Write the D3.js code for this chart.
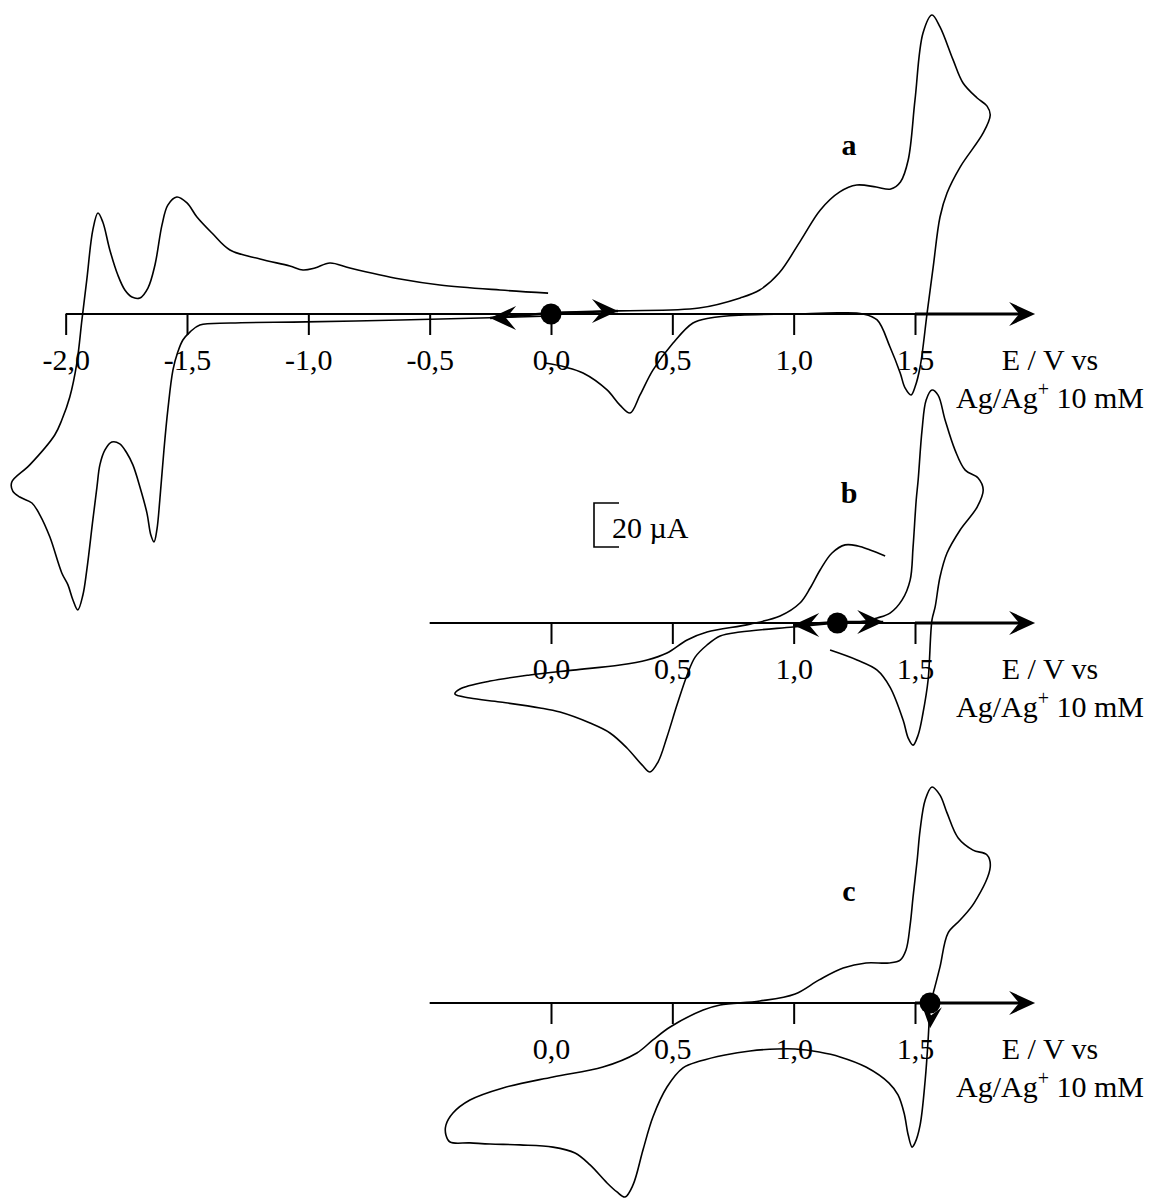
<!DOCTYPE html>
<html>
<head>
<meta charset="utf-8">
<script src="https://cdn.jsdelivr.net/npm/d3@7"></script>
<style>
  html, body { margin: 0; padding: 0; background: #fff; }
  svg { display: block; }
  text { font-family: "Liberation Serif", "Times New Roman", serif; fill: #000; }
</style>
</head>
<body>
<svg id="chart" width="1154" height="1198"></svg>
<script>
// ---------- DATA (E in V vs Ag/Ag+ 10 mM, I in µA) ----------
const ticksA = [-2.0, -1.5, -1.0, -0.5, 0.0, 0.5, 1.0, 1.5];
const ticksBC = [0.0, 0.5, 1.0, 1.5];
const panelLetters = ["a", "b", "c"];
const axisTitle = ["E / V vs", "Ag/Ag", "+", " 10 mM"];
const scaleBarLabel = "20 µA";
const scaleBarValue = 20;

// start potentials (filled dots)
const startA = 0.0;
const startB = 1.18;
const startC = 1.562;

// trace a : scan started towards positive potentials
const aPositive = [
  [0.00,0.5],[0.28,1.4],[0.61,2.7],[0.78,7.3],[0.86,10.9],[0.94,18.6],[1.03,33.6],
  [1.11,47.3],[1.19,55.5],[1.26,58.6],[1.34,57.7],[1.40,56.8],[1.44,60],[1.472,70],
  [1.50,97.3],[1.533,127.7],[1.57,135.9],[1.603,130.5],[1.657,115.5],[1.698,105],
  [1.756,98.2],[1.797,94.5],[1.81,90.5],[1.781,82.3],[1.686,66.8],[1.632,55],
  [1.603,44.1],[1.575,21.4],[1.55,0.5],[1.521,-24.1],[1.50,-33.2],[1.484,-36.8],
  [1.459,-33.6],[1.439,-26.8],[1.397,-15],[1.344,-2.7],[1.286,0],[1.19,0.5],
  [1.00,0],[0.78,-0.5],[0.655,-1.8],[0.585,-4.1],[0.503,-13.2],[0.42,-25.5],
  [0.367,-36.8],[0.326,-45],[0.284,-41.4],[0.231,-34.5],[0.132,-26.8],
  [0.058,-24.1],[-0.025,-22.3]
];
// trace a : scan started towards negative potentials
const aNegative = [
  [0.00,-0.9],[-0.29,-1.8],[-0.62,-2.7],[-1.01,-3.6],[-1.32,-4.1],[-1.447,-5],
  [-1.488,-8.2],[-1.517,-11.8],[-1.538,-17.3],[-1.558,-25.5],[-1.579,-43.6],
  [-1.595,-61.8],[-1.612,-84.5],[-1.624,-98],[-1.636,-103.6],[-1.649,-100.5],
  [-1.665,-90.5],[-1.694,-78.6],[-1.723,-68.6],[-1.748,-63.2],[-1.777,-59],
  [-1.81,-58.2],[-1.838,-61.8],[-1.859,-68.6],[-1.871,-78.6],[-1.888,-93.6],
  [-1.913,-116.4],[-1.929,-127.7],[-1.95,-134.5],[-1.97,-130],[-1.991,-123],
  [-2.016,-117.7],[-2.065,-101.4],[-2.106,-91.4],[-2.139,-85.9],[-2.189,-83.2],
  [-2.218,-80.5],[-2.222,-76.4],[-2.148,-68.6],[-2.045,-55],[-2.016,-48.2],
  [-1.983,-37.7],[-1.954,-22.3],[-1.933,-2.7],[-1.913,15.5],[-1.888,38.2],
  [-1.867,45.9],[-1.847,41.8],[-1.818,29.1],[-1.785,17.7],[-1.756,10.9],
  [-1.727,7.7],[-1.694,7.3],[-1.661,11.8],[-1.632,22.3],[-1.603,40.5],
  [-1.579,49.5],[-1.542,53.2],[-1.50,50.5],[-1.459,44.1],[-1.397,36.8],
  [-1.323,29.1],[-1.199,25],[-1.076,21.8],[-1.022,20],[-0.973,20.9],
  [-0.911,23.2],[-0.829,20.9],[-0.622,15.9],[-0.458,13.2],[-0.21,10.9],[-0.012,9.5]
];
// trace b : scan started towards positive potentials
const bPositive = [
  [1.18,0],[1.274,0.5],[1.344,2.3],[1.397,4.5],[1.447,10.5],[1.48,19.5],[1.492,34.5],
  [1.505,55.9],[1.513,65],[1.529,87.7],[1.546,101.4],[1.57,105.9],[1.595,103.6],
  [1.624,92.3],[1.665,78.6],[1.707,69.5],[1.76,65.9],[1.781,60.5],[1.756,52.7],
  [1.686,42.3],[1.632,31.8],[1.603,20.9],[1.583,7.3],[1.57,1.4],[1.554,-25.9],
  [1.533,-40.9],[1.513,-50.9],[1.492,-55.5],[1.472,-52.3],[1.451,-44.1],
  [1.397,-29.1],[1.344,-21.4],[1.261,-16.8],[1.15,-12.3]
];
// trace b : scan started towards negative potentials
const bNegative = [
  [1.18,0],[0.998,-1.8],[0.779,-4.1],[0.697,-5.9],[0.643,-10],[0.594,-15.5],
  [0.561,-23.6],[0.519,-37.3],[0.478,-51.8],[0.441,-63.2],[0.408,-67.7],
  [0.375,-64.5],[0.313,-56.8],[0.243,-50],[0.161,-45.5],[0.037,-40.5],
  [-0.045,-38.6],[-0.21,-35.9],[-0.334,-34.1],[-0.396,-32.3],[-0.375,-30],
  [-0.251,-26.4],[-0.087,-23.6],[0.091,-21.4],[0.284,-19.1],[0.396,-16.8],
  [0.478,-13.6],[0.561,-7.7],[0.643,-4.1],[0.82,-0.5],[0.944,3.2],[1.026,9.1],
  [1.068,15.9],[1.109,24.1],[1.158,31.8],[1.212,35.5],[1.265,35],[1.315,33.2],[1.377,30.5]
];
// trace c : single cycle started at +1.56 V towards negative potentials
const cCycle = [
  [1.562,0],[1.554,-16.8],[1.542,-35],[1.521,-55.5],[1.50,-63.6],[1.488,-65.5],
  [1.472,-60],[1.455,-50],[1.43,-41.8],[1.393,-36.4],[1.298,-29.1],[1.191,-24.5],
  [1.105,-22.3],[1.006,-20.9],[0.932,-20.9],[0.82,-21.8],[0.717,-23.6],[0.614,-26.4],
  [0.544,-29.5],[0.478,-38.2],[0.42,-51.8],[0.379,-66.8],[0.338,-82.7],[0.305,-88.2],
  [0.272,-85.9],[0.231,-81.8],[0.161,-73.6],[0.099,-68.2],[0.008,-65.5],
  [-0.128,-64.5],[-0.251,-64.1],[-0.334,-63.6],[-0.416,-63.2],[-0.433,-60],
  [-0.433,-55.5],[-0.404,-50],[-0.334,-44.1],[-0.198,-38.6],[0.008,-33.6],
  [0.214,-29.1],[0.354,-22.7],[0.42,-16.8],[0.491,-10.9],[0.627,-3.2],[0.697,-0.9],
  [0.861,0.9],[1.006,4.1],[1.105,10.5],[1.204,15.9],[1.298,18.2],[1.393,18.2],
  [1.439,19.5],[1.463,24.1],[1.48,35.5],[1.492,48.2],[1.509,65],[1.521,78.6],
  [1.542,92.3],[1.57,98.2],[1.603,94.5],[1.632,86.4],[1.678,75],[1.739,69.5],
  [1.797,67.3],[1.81,61.8],[1.744,45.5],[1.686,37.7],[1.636,31.8],[1.603,16.4],
  [1.575,4.5],[1.562,0]
];
// scan-direction arrows [E, I, angle(deg)]
const arrowsA = [[0.276, 1.4, 0], [-0.251, -1.8, 180]];
const arrowsB = [[1.369, 0.5, 0], [0.998, -0.9, 180]];
const arrowsC = [[1.562, -11.5, 95]];

// ---------- LAYOUT ----------
const svg = d3.select("#chart");
const x = d3.scaleLinear().domain([0, 1.5]).range([551, 915]);
const axisEnd = 1.995;
const panels = [
  { letter: panelLetters[0], axisY: 314, ticks: ticksA, axisStart: -2.0,
    traces: [aPositive, aNegative], start: startA, arrows: arrowsA, letterPos: [849, 155] },
  { letter: panelLetters[1], axisY: 623, ticks: ticksBC, axisStart: -0.5,
    traces: [bPositive, bNegative], start: startB, arrows: arrowsB, letterPos: [849, 503] },
  { letter: panelLetters[2], axisY: 1003, ticks: ticksBC, axisStart: -0.5,
    traces: [cCycle], start: startC, arrows: arrowsC, letterPos: [849, 901] }
];
const pxPerMicroA = 2.2;
const arrowPath = "M0,0 L-26,-12 L-16,0 L-26,12 Z";
const smallArrowPath = "M0,0 L-22,-10 L-13,0 L-22,10 Z";
const fmt = v => d3.format(".1f")(v).replace(".", ",").replace("−", "-");

panels.forEach(p => {
  const y = d3.scaleLinear().domain([0, scaleBarValue])
    .range([p.axisY, p.axisY - scaleBarValue * pxPerMicroA]);
  p.y = y;
  const g = svg.append("g");

  // axis line
  g.append("line")
    .attr("x1", x(p.axisStart)).attr("x2", x(axisEnd) - 14)
    .attr("y1", p.axisY).attr("y2", p.axisY)
    .attr("stroke", "#000").attr("stroke-width", 2);
  g.append("line")
    .attr("x1", x(1.5)).attr("x2", x(axisEnd) - 14)
    .attr("y1", p.axisY).attr("y2", p.axisY)
    .attr("stroke", "#000").attr("stroke-width", 3);
  g.append("path")
    .attr("d", arrowPath)
    .attr("transform", `translate(${x(axisEnd)},${p.axisY})`)
    .attr("fill", "#000");

  // ticks + labels
  const ax = d3.axisBottom(x).tickValues(p.ticks).tickSize(21).tickPadding(14)
    .tickFormat(fmt);
  const axG = g.append("g").attr("transform", `translate(0,${p.axisY})`).call(ax);
  axG.select(".domain").remove();
  axG.selectAll(".tick line").attr("stroke", "#000").attr("stroke-width", 2);
  axG.selectAll(".tick text")
    .style("font-family", '"Liberation Serif", "Times New Roman", serif')
    .style("font-size", "30px").attr("fill", "#000");

  // axis title
  g.append("text").attr("x", 1050).attr("y", p.axisY + 56)
    .attr("text-anchor", "middle").style("font-size", "30px").text(axisTitle[0]);
  const t2 = g.append("text").attr("x", 1050).attr("y", p.axisY + 94)
    .attr("text-anchor", "middle").style("font-size", "30px");
  t2.append("tspan").text(axisTitle[1]);
  t2.append("tspan").attr("dy", -12).style("font-size", "20px").text(axisTitle[2]);
  t2.append("tspan").attr("dy", 12).text(axisTitle[3]);

  // curves
  const line = d3.line().x(d => x(d[0])).y(d => y(d[1]))
    .curve(d3.curveCatmullRom.alpha(0.5));
  p.traces.forEach(tr => {
    g.append("path").datum(tr).attr("d", line)
      .attr("fill", "none").attr("stroke", "#000").attr("stroke-width", 1.6)
      .attr("stroke-linejoin", "round");
  });

  // direction arrows
  p.arrows.forEach(a => {
    const horizontal = (a[2] === 0 || a[2] === 180);
    g.append("path").attr("d", horizontal ? arrowPath : smallArrowPath)
      .attr("transform", `translate(${x(a[0])},${y(a[1])}) rotate(${a[2]})`)
      .attr("fill", "#000");
    if (horizontal) {
      g.append("line")
        .attr("x1", x(p.start)).attr("x2", x(a[0]))
        .attr("y1", p.axisY - 1).attr("y2", y(a[1]))
        .attr("stroke", "#000").attr("stroke-width", 2.5);
    }
  });

  // start dot
  g.append("circle").attr("cx", x(p.start)).attr("cy", p.axisY).attr("r", 10.5)
    .attr("fill", "#000");

  // panel letter
  g.append("text").attr("x", p.letterPos[0]).attr("y", p.letterPos[1])
    .attr("text-anchor", "middle").style("font-size", "30px")
    .style("font-weight", "bold").text(p.letter);
});

// scale bar (20 µA) using panel b's current scale
const yb = panels[1].y;
const barH = yb(0) - yb(scaleBarValue);
const barX = 594, barBottom = 547;
svg.append("path")
  .attr("d", `M${barX + 25},${barBottom - barH} H${barX} V${barBottom} H${barX + 25}`)
  .attr("fill", "none").attr("stroke", "#000").attr("stroke-width", 1.6);
svg.append("text").attr("x", 612).attr("y", 538).style("font-size", "30px")
  .text(scaleBarLabel);
</script>
</body>
</html>
